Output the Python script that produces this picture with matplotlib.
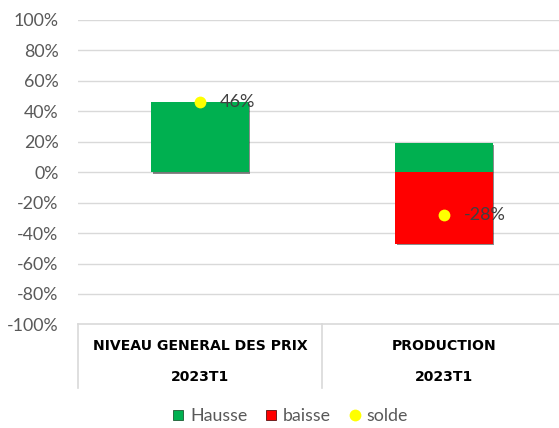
import matplotlib
matplotlib.use("Agg")
import matplotlib.pyplot as plt
import matplotlib.patheffects as pe
from matplotlib.lines import Line2D

# donnees
categories = ["NIVEAU GENERAL DES PRIX", "PRODUCTION"]
periode = ["2023T1", "2023T1"]
hausse = [46, 19]
baisse = [0, -47]
solde = [46, -28]
yticks = list(range(-100, 101, 20))

W, H = 559, 428
fig = plt.figure(figsize=(W / 100, H / 100), dpi=100)
# zone de trace (en pixels) : x 78 -> 566, y 20 -> 324.4
ax = fig.add_axes([78 / W, 1 - 324.4 / H, (566 - 78) / W, (324.4 - 20) / H])

xpos = [0.5, 1.5]
shadow = [pe.SimplePatchShadow(offset=(1.2, -1.2), shadow_rgbFace="black", alpha=0.45), pe.Normal()]
b1 = ax.bar(xpos, hausse, width=0.4, color="#00B050", linewidth=0, zorder=3)
b2 = ax.bar(xpos, baisse, width=0.4, color="#FF0000", linewidth=0, zorder=3)
for p in list(b1) + list(b2):
    if p.get_height() != 0:
        p.set_path_effects(shadow)

ax.plot(xpos, solde, linestyle="none", marker="o", markersize=8.5,
        color="#FFFF00", markeredgewidth=0, zorder=5)
for x, v in zip(xpos, solde):
    ax.annotate(f"{v}%", (x, v), xytext=(14.5, 0), textcoords="offset points",
                ha="left", va="center", fontsize=13, color="#404040",
                family="Lato", zorder=6)

ax.set_xlim(0, 2)
ax.set_ylim(-100, 100)
ax.set_yticks(yticks)
ax.set_yticklabels([f"{t}%" for t in yticks], family="Lato", fontsize=12.8, color="#595959")
ax.tick_params(axis="y", length=0, pad=14)
ax.set_xticks([])
for t in yticks[1:]:
    ax.axhline(t, color="#D9D9D9", linewidth=1, zorder=1)
ax.axhline(-100, color="#D9D9D9", linewidth=1.2, zorder=1, clip_on=False)
for s in ax.spines.values():
    s.set_visible(False)

# axe des categories a deux niveaux
tr = ax.get_xaxis_transform()
for x in [0, 1, 2]:
    ax.plot([x, x], [0, -0.209], transform=tr, color="#D9D9D9", linewidth=1.2, clip_on=False)
for x, c, p in zip(xpos, categories, periode):
    ax.text(x, -0.071, c, transform=tr, ha="center", va="center", fontsize=10.1,
            fontweight="bold", family="DejaVu Sans", color="black")
    ax.text(x, -0.173, p, transform=tr, ha="center", va="center", fontsize=10.1,
            fontweight="bold", family="DejaVu Sans", color="black")

handles = [
    Line2D([], [], linestyle="none", marker="s", markersize=7, markerfacecolor="#00B050",
           markeredgecolor="#1d5a33", markeredgewidth=0.6),
    Line2D([], [], linestyle="none", marker="s", markersize=7, markerfacecolor="#FF0000",
           markeredgecolor="#5a1010", markeredgewidth=0.6),
    Line2D([], [], linestyle="none", marker="o", markersize=8.5, markerfacecolor="#FFFF00",
           markeredgewidth=0),
]
leg = fig.legend(handles, ["Hausse", "baisse", "solde"], loc="center",
                 bbox_to_anchor=(290 / W, 1 - 416 / H), ncol=3, frameon=False,
                 handlelength=0.7, handletextpad=0.3, columnspacing=1.0,
                 prop={"family": "Lato", "size": 12.8})
for t in leg.get_texts():
    t.set_color("#595959")

fig.savefig("out.png", dpi=100)
